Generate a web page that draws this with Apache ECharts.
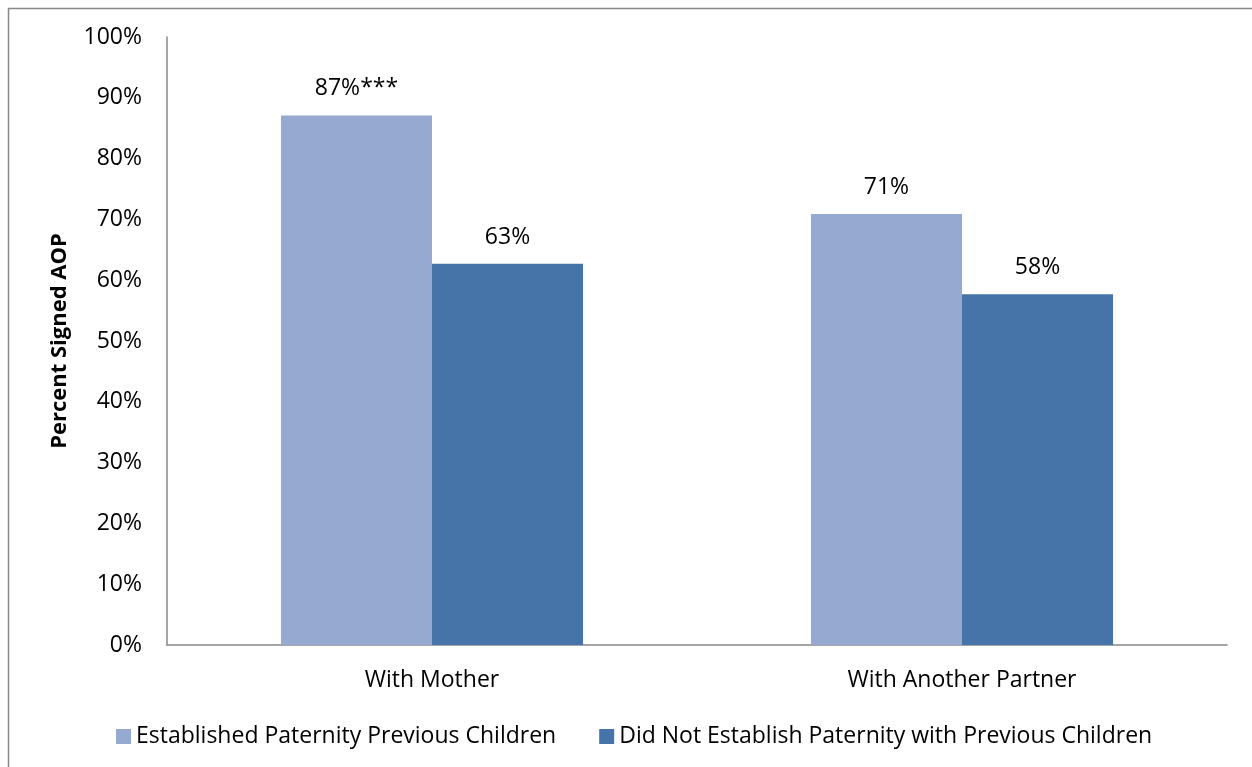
<!DOCTYPE html>
<html><head><meta charset="utf-8">
<script src="https://cdn.jsdelivr.net/npm/echarts@6/dist/echarts.min.js"></script>
<style>html,body{margin:0;padding:0;background:#fff}#c{width:1252px;height:767px}</style>
</head><body><div id="c"></div>
<script>
const categories = ['With Mother', 'With Another Partner'];
const seriesNames = ['Established Paternity Previous Children', 'Did Not Establish Paternity with Previous Children'];
const established = [87.1, 70.9];
const notEstablished = [62.7, 57.7];
const establishedLabels = ['87%***', '71%'];
const notEstablishedLabels = ['63%', '58%'];
const yTicks = [0, 10, 20, 30, 40, 50, 60, 70, 80, 90, 100];

const FONT = '"Open Sans", "Noto Sans", sans-serif';
const FS = 23;
const chart = echarts.init(document.getElementById('c'));
chart.setOption({
  animation: false,
  textStyle: { fontFamily: FONT },
  graphic: [{ type: 'rect', shape: { x: 8.5, y: 8.5, width: 1300, height: 800 }, style: { fill: 'none', stroke: '#888', lineWidth: 1.5 }, silent: true }],
  grid: { left: 167, right: 25, top: 37, bottom: 122 },
  legend: {
    bottom: 14, left: 111, itemWidth: 15, itemHeight: 15, itemGap: 43, icon: 'rect',
    textStyle: { fontSize: FS, color: '#000', fontFamily: FONT },
    data: seriesNames
  },
  xAxis: {
    type: 'category', data: categories,
    axisLine: { lineStyle: { color: '#888', width: 1.5 } },
    axisTick: { show: false },
    axisLabel: { fontSize: FS, color: '#000', margin: 24, fontFamily: FONT }
  },
  yAxis: {
    type: 'value', min: 0, max: 100, interval: 10,
    name: 'Percent Signed AOP', nameLocation: 'middle', nameGap: 96,
    nameTextStyle: { fontSize: 22, fontWeight: 'bold', color: '#000', fontFamily: FONT },
    axisLine: { show: true, lineStyle: { color: '#888', width: 1.5 } },
    axisTick: { show: false },
    splitLine: { show: false },
    axisLabel: { fontSize: FS, color: '#000', margin: 25, fontFamily: FONT,
      formatter: v => yTicks.includes(v) ? v + '%' : '' }
  },
  series: [
    { name: seriesNames[0], type: 'bar', data: established, barGap: '0%', barCategoryGap: '43%',
      itemStyle: { color: '#95A9D1' },
      label: { show: true, position: 'top', distance: 15, fontSize: FS, color: '#000', fontFamily: FONT,
        formatter: p => establishedLabels[p.dataIndex] } },
    { name: seriesNames[1], type: 'bar', data: notEstablished,
      itemStyle: { color: '#4674A8' },
      label: { show: true, position: 'top', distance: 15, fontSize: FS, color: '#000', fontFamily: FONT,
        formatter: p => notEstablishedLabels[p.dataIndex] } }
  ]
});
</script></body></html>
